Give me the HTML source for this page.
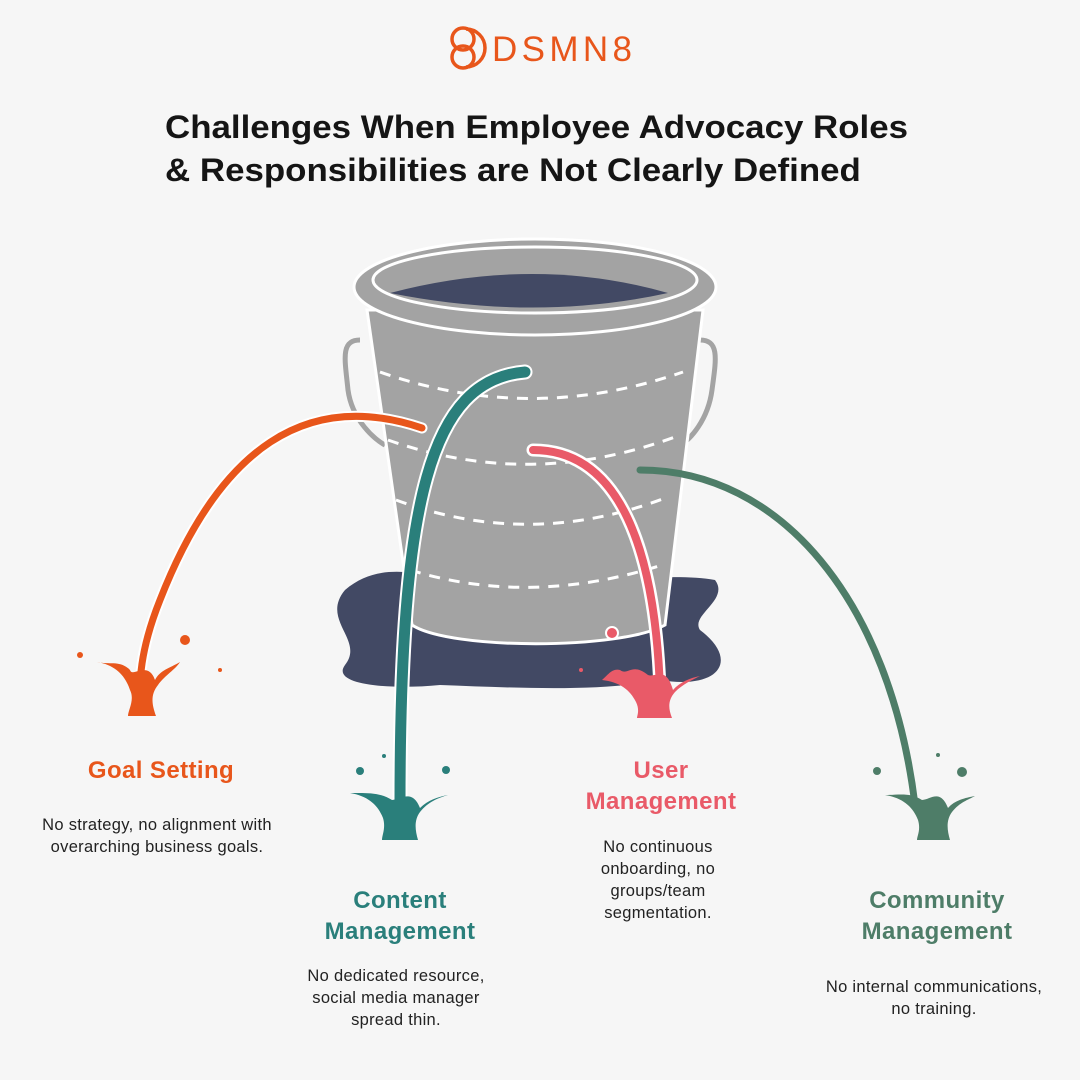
<!DOCTYPE html>
<html><head><style>
body{margin:0;background:#f6f6f6;}
.c{position:relative;width:1080px;height:1080px;overflow:hidden;font-family:"Liberation Sans",sans-serif;}
.t{position:absolute;left:165px;top:106px;font-size:32px;font-weight:bold;color:#151515;line-height:43px;white-space:nowrap;transform:scaleX(1.09);transform-origin:0 0}
.h{position:absolute;font-size:24px;font-weight:bold;text-align:center;line-height:31px;width:260px;letter-spacing:0.4px}
.d{position:absolute;font-size:16.5px;color:#222;text-align:center;line-height:22px;width:320px;letter-spacing:0.3px}
</style></head><body><div class="c">
<svg width="1080" height="1080" style="position:absolute;left:0;top:0">
<g fill="none" stroke="#e8561b" stroke-width="3.5">
<circle cx="463" cy="39" r="11"/><circle cx="463" cy="57" r="11"/><path d="M466 29 A19 19 0 1 1 466 67"/>
</g>
<text x="492" y="61" font-family="Liberation Sans" font-size="35" fill="#e8561b" textLength="140">DSMN8</text>
<path d="M345 590 C380 560 420 575 460 580 C560 590 660 570 715 580 C730 600 690 615 700 630 C740 660 720 690 660 680 C600 692 520 688 440 685 C390 690 330 685 345 665 C365 640 320 620 345 590 Z" fill="#424964"/>
<path d="M360 340 C340 340 345 360 348 390 C352 420 375 440 385 445" fill="none" stroke="#a3a3a3" stroke-width="5"/>
<path d="M700 340 C720 340 716 360 712 390 C708 420 690 440 680 445" fill="none" stroke="#a3a3a3" stroke-width="5"/>
<path d="M367 310 L703 310 L665 625 C620 650 450 650 412 625 Z" fill="#a3a3a3" stroke="#fff" stroke-width="3"/>
<g fill="none" stroke="#fff" stroke-width="3" stroke-dasharray="11 9">
<path d="M380 372 Q530 425 683 372"/>
<path d="M388 440 Q530 490 675 437"/>
<path d="M396 500 Q530 550 668 497"/>
<path d="M410 570 Q530 607 662 565"/>
</g>
<ellipse cx="535" cy="287" rx="181" ry="48" fill="#a3a3a3" stroke="#fff" stroke-width="3"/>
<ellipse cx="535" cy="280" rx="162" ry="33" fill="none" stroke="#fff" stroke-width="3"/>
<path d="M390 293 Q535 255 668 293 Q535 322 390 293 Z" fill="#424964"/>
<g fill="none" stroke-linecap="round">
<path d="M422 428 Q250 370 160 600 Q140 650 140 690" stroke="#fff" stroke-width="11"/>
<path d="M422 428 Q250 370 160 600 Q140 650 140 690" stroke="#e8561b" stroke-width="7"/>
<path d="M640 470 C780 470 890 600 915 805" stroke="#4e7d68" stroke-width="7"/>
<path d="M533 450 C620 450 655 550 660 690" stroke="#fff" stroke-width="13"/>
<path d="M533 450 C620 450 655 550 660 690" stroke="#e95a68" stroke-width="8"/>
<path d="M525 372 C430 380 400 500 400 805" stroke="#fff" stroke-width="15"/>
<path d="M525 372 C430 380 400 500 400 805" stroke="#2a7f7b" stroke-width="11"/>
</g>
<path d="M97 662 C115 665 125 675 130 690 C135 700 128 710 128 716 L156 716 C152 705 150 695 158 685 C165 675 175 670 180 662 C170 668 160 670 155 680 C148 660 132 678 130 670 C120 660 110 665 97 662Z" fill="#e8561b"/>
<circle cx="80" cy="655" r="3" fill="#e8561b"/><circle cx="185" cy="640" r="5" fill="#e8561b"/><circle cx="220" cy="670" r="2" fill="#e8561b"/>
<path d="M350 793 C368 796 378 805 383 818 C386 828 382 835 382 840 L418 840 C415 830 414 820 420 812 C428 802 438 798 448 795 C438 797 428 800 420 808 C412 788 400 800 392 800 C380 792 365 793 350 793Z" fill="#2a7f7b"/>
<circle cx="360" cy="771" r="4" fill="#2a7f7b"/><circle cx="446" cy="770" r="4" fill="#2a7f7b"/><circle cx="384" cy="756" r="2" fill="#2a7f7b"/>
<path d="M602 680 C620 682 630 690 636 702 C640 710 637 716 637 718 L672 718 C668 708 668 700 675 692 C683 684 692 680 700 676 C690 678 680 682 673 690 C666 665 655 678 648 675 C632 662 628 676 620 670 C612 668 608 675 602 680Z" fill="#e95a68"/>
<circle cx="612" cy="633" r="6" fill="#e95a68" stroke="#fff" stroke-width="2"/><circle cx="581" cy="670" r="2" fill="#e95a68"/>
<path d="M885 795 C903 798 913 807 918 820 C921 830 917 836 917 840 L950 840 C947 830 946 820 952 812 C960 802 968 800 975 796 C965 798 955 800 948 808 C940 788 930 800 922 800 C910 792 898 795 885 795Z" fill="#4e7d68"/>
<circle cx="877" cy="771" r="4" fill="#4e7d68"/><circle cx="962" cy="772" r="5" fill="#4e7d68"/><circle cx="938" cy="755" r="2" fill="#4e7d68"/>
</svg>
<div class="t">Challenges When Employee Advocacy Roles<br>&amp; Responsibilities are Not Clearly Defined</div>
<div class="h" style="left:31px;top:755px;color:#e8561b">Goal Setting</div>
<div class="d" style="left:-3px;top:814px">No strategy, no alignment with<br>overarching business goals.</div>
<div class="h" style="left:270px;top:885px;color:#2a7f7b">Content<br>Management</div>
<div class="d" style="left:236px;top:965px">No dedicated resource,<br>social media manager<br>spread thin.</div>
<div class="h" style="left:531px;top:755px;color:#e95a68">User<br>Management</div>
<div class="d" style="left:498px;top:836px">No continuous<br>onboarding, no<br>groups/team<br>segmentation.</div>
<div class="h" style="left:807px;top:885px;color:#4e7d68">Community<br>Management</div>
<div class="d" style="left:774px;top:976px">No internal communications,<br>no training.</div>
</div></body></html>
